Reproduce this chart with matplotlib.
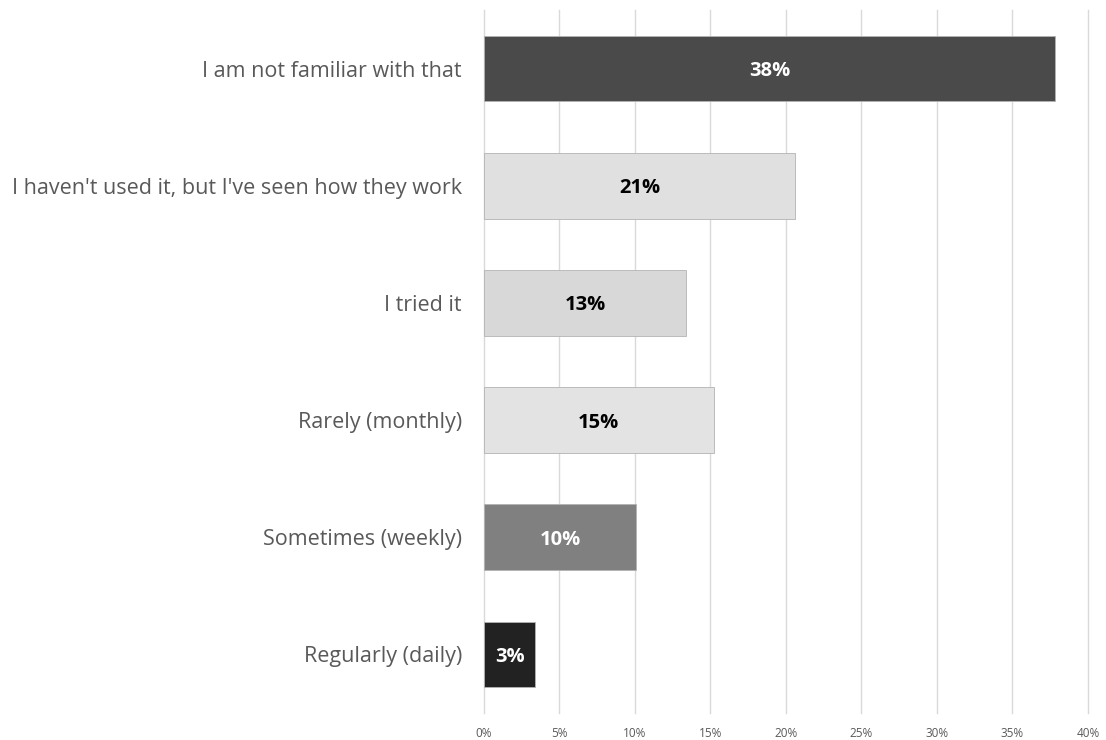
import matplotlib
matplotlib.use("Agg")
import matplotlib.pyplot as plt
from matplotlib.ticker import FuncFormatter, MultipleLocator

# Survey responses, top to bottom
categories = [
    "I am not familiar with that",
    "I haven't used it, but I've seen how they work",
    "I tried it",
    "Rarely (monthly)",
    "Sometimes (weekly)",
    "Regularly (daily)",
]
shares = [37.8, 20.6, 13.4, 15.2, 10.1, 3.4]
bar_colors = ["#4a4a4a", "#e0e0e0", "#d8d8d8", "#e3e3e3", "#808080", "#222222"]
label_colors = ["white", "black", "black", "black", "white", "white"]

plt.rcParams["font.family"] = ["Open Sans", "DejaVu Sans"]

fig = plt.figure(figsize=(11.06, 7.40), dpi=100)
ax = fig.add_axes([0.4376, 0.0365, 0.9837 - 0.4376, 0.9865 - 0.0365])

y = list(range(len(categories)))
bars = ax.barh(y, shares, height=0.56, color=bar_colors,
               edgecolor="#b3b3b3", linewidth=0.6, zorder=3)

for bar, val, col in zip(bars, shares, label_colors):
    ax.text(bar.get_x() + bar.get_width() / 2, bar.get_y() + bar.get_height() / 2,
            f"{round(val):d}%", ha="center", va="center_baseline",
            fontsize=14.5, fontweight="bold", color=col, zorder=4)

ax.set_xlim(0, 40)
ax.set_ylim(len(categories) - 0.5, -0.5)
ax.xaxis.set_major_locator(MultipleLocator(5))
ax.xaxis.set_major_formatter(FuncFormatter(lambda v, _: f"{v:.0f}%"))
ax.set_yticks(y)
ax.set_yticklabels(categories)

ax.grid(axis="x", color="#d9d9d9", linewidth=1.0, zorder=0)
for gl in ax.get_xgridlines():
    gl.set_clip_on(False)
ax.set_axisbelow(True)
for s in ax.spines.values():
    s.set_visible(False)

ax.tick_params(axis="x", length=0, labelsize=8.5, labelcolor="#595959", pad=10)
ax.tick_params(axis="y", length=0, labelsize=15.5, labelcolor="#595959", pad=16)

fig.savefig("out.png", dpi=100, facecolor="white")
